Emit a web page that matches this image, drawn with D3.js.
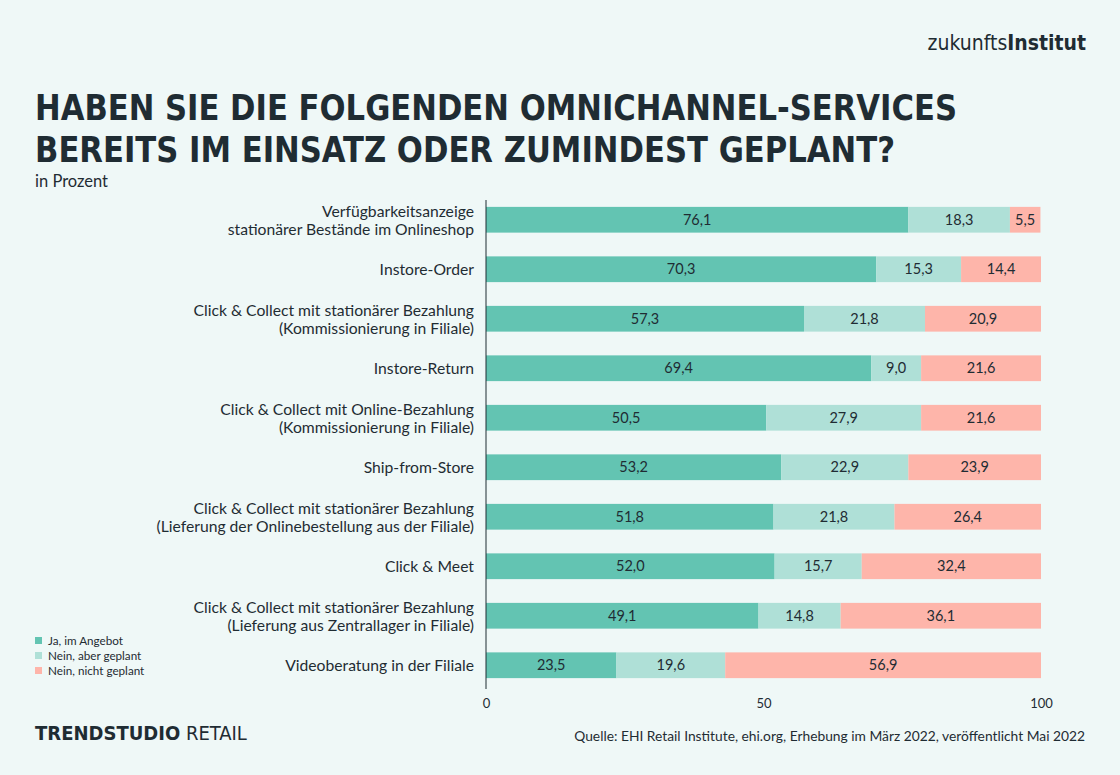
<!DOCTYPE html>
<html><head><meta charset="utf-8">
<script src="https://cdn.jsdelivr.net/npm/d3@7"></script>
<style>
body{margin:0;background:#eff8f7;}
svg{display:block;}
</style></head><body>
<svg id="c" width="1120" height="775"></svg>
<script>
const categories = [
  ["Verfügbarkeitsanzeige","stationärer Bestände im Onlineshop"],
  ["Instore-Order"],
  ["Click & Collect mit stationärer Bezahlung","(Kommissionierung in Filiale)"],
  ["Instore-Return"],
  ["Click & Collect mit Online-Bezahlung","(Kommissionierung in Filiale)"],
  ["Ship-from-Store"],
  ["Click & Collect mit stationärer Bezahlung","(Lieferung der Onlinebestellung aus der Filiale)"],
  ["Click & Meet"],
  ["Click & Collect mit stationärer Bezahlung","(Lieferung aus Zentrallager in Filiale)"],
  ["Videoberatung in der Filiale"]
];
const ja = [76.1,70.3,57.3,69.4,50.5,53.2,51.8,52.0,49.1,23.5];
const geplant = [18.3,15.3,21.8,9.0,27.9,22.9,21.8,15.7,14.8,19.6];
const nicht = [5.5,14.4,20.9,21.6,21.6,23.9,26.4,32.4,36.1,56.9];
const seriesNames = ["Ja, im Angebot","Nein, aber geplant","Nein, nicht geplant"];
const colors = ["#63c4b2","#afe0d7","#feb5aa"];
const ticks = [0,50,100];

const svg = d3.select("#c");
const dark = "#1f2c33";
svg.append("rect").attr("width",1120).attr("height",775).attr("fill","#eff8f7");

// logo
svg.append("text").attr("x",1086).attr("y",50).attr("text-anchor","end")
  .attr("font-family","DejaVu Sans Condensed, DejaVu Sans").attr("font-size",21).attr("fill",dark)
  .html('<tspan>zukunfts</tspan><tspan font-weight="bold">Institut</tspan>');

// title
const tf = "'DejaVu Sans Condensed', 'Liberation Sans Narrow', sans-serif";
svg.append("text").attr("x",35).attr("y",120).attr("font-family",tf).attr("font-weight","bold")
  .attr("font-size",36).attr("fill",dark).attr("textLength",922).attr("lengthAdjust","spacingAndGlyphs")
  .text("HABEN SIE DIE FOLGENDEN OMNICHANNEL-SERVICES");
svg.append("text").attr("x",35).attr("y",162).attr("font-family",tf).attr("font-weight","bold")
  .attr("font-size",36).attr("fill",dark).attr("textLength",860).attr("lengthAdjust","spacingAndGlyphs")
  .text("BEREITS IM EINSATZ ODER ZUMINDEST GEPLANT?");
svg.append("text").attr("x",35).attr("y",187).attr("font-family","Lato, sans-serif")
  .attr("font-size",16.5).attr("fill",dark).text("in Prozent");

const x = d3.scaleLinear().domain([0,100]).range([486,1041]);
const y = d3.scaleBand().domain(d3.range(categories.length)).range([195,690]).paddingInner(0.48).paddingOuter(0.24);

const data = categories.map((c,i)=>({i, vals:[ja[i],geplant[i],nicht[i]]}));
const lf = "Lato, 'Noto Sans', sans-serif";
data.forEach(d=>{
  let acc = 0;
  d.vals.forEach((v,k)=>{
    const x0 = x(acc), x1 = x(Math.min(100,acc+v));
    svg.append("rect").attr("x",x0).attr("y",y(d.i)).attr("width",x1-x0).attr("height",y.bandwidth()).attr("fill",colors[k]);
    svg.append("text").attr("x",(x0+x1)/2).attr("y",y(d.i)+y.bandwidth()/2+5).attr("text-anchor","middle")
      .attr("font-family",lf).attr("font-size",14.5).attr("fill",dark).text(v.toFixed(1).replace(".",","));
    acc += v;
  });
  const lines = categories[d.i];
  const cy = y(d.i)+y.bandwidth()/2;
  lines.forEach((t,j)=>{
    const off = (j-(lines.length-1)/2)*18;
    svg.append("text").attr("x",474).attr("y",cy+off+6).attr("text-anchor","end")
      .attr("font-family",lf).attr("font-size",15.7).attr("fill",dark).text(t);
  });
});

// axis
const ax = svg.append("g").attr("transform","translate(0,690)")
  .call(d3.axisBottom(x).tickValues(ticks).tickSize(0).tickPadding(9));
ax.select(".domain").remove();
ax.selectAll("text").attr("font-family",lf).attr("font-size",13).attr("fill",dark);
svg.append("line").attr("x1",486).attr("x2",486).attr("y1",200).attr("y2",689).attr("stroke",dark).attr("stroke-width",1);

// legend
seriesNames.forEach((n,k)=>{
  svg.append("rect").attr("x",35).attr("y",637+k*15).attr("width",7).attr("height",7).attr("fill",colors[k]);
  svg.append("text").attr("x",48).attr("y",645+k*15).attr("font-family",lf).attr("font-size",11.7).attr("fill",dark).text(n);
});

// footer
svg.append("text").attr("x",35).attr("y",740).attr("font-family","'DejaVu Sans Condensed', sans-serif")
  .attr("font-size",20).attr("fill",dark)
  .html('<tspan font-weight="bold">TRENDSTUDIO</tspan><tspan> RETAIL</tspan>');
svg.append("text").attr("x",1085).attr("y",741).attr("text-anchor","end").attr("font-family",lf)
  .attr("font-size",13.8).attr("fill",dark)
  .text("Quelle: EHI Retail Institute, ehi.org, Erhebung im März 2022, veröffentlicht Mai 2022");
</script></body></html>
